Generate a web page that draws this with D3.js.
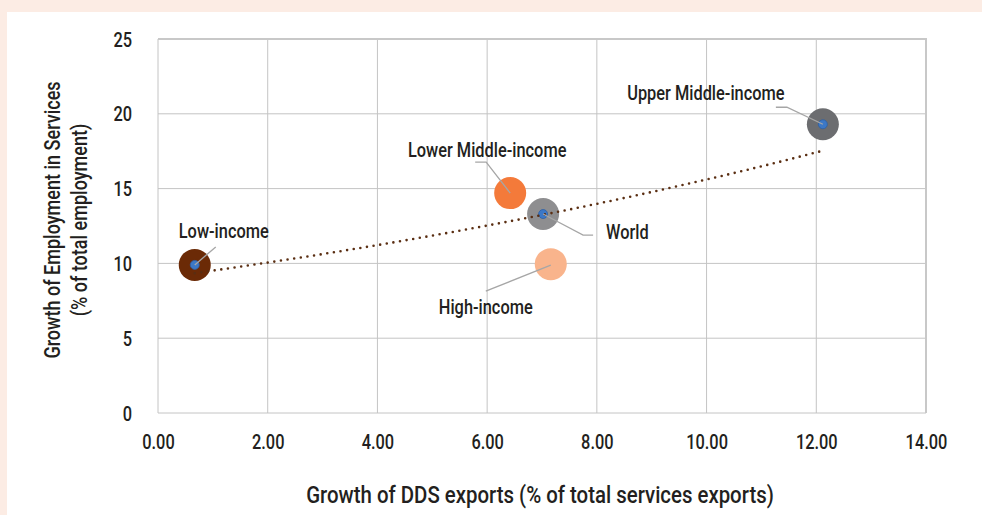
<!DOCTYPE html>
<html>
<head>
<meta charset="utf-8">
<script src="https://cdn.jsdelivr.net/npm/d3@7"></script>
<style>
  html, body { margin: 0; padding: 0; background: #FCECE4; }
  svg { display: block; }
  text { font-family: Roboto, "Liberation Sans", sans-serif; font-weight: 500; fill: #231F20; }
</style>
</head>
<body>
<svg id="chart" width="982" height="515"></svg>
<script>
// ---- data ----
const groups = ["Low-income", "Lower Middle-income", "World", "High-income", "Upper Middle-income"];
const ddsGrowth = [0.67, 6.42, 7.02, 7.16, 12.12];          // x: growth of DDS exports
const empGrowth = [9.9, 14.7, 13.3, 9.95, 19.3];            // y: growth of employment in services
const xTicks = [0, 2, 4, 6, 8, 10, 12, 14];
const yTicks = [0, 5, 10, 15, 20, 25];
const xTitle = "Growth of DDS exports (% of total services exports)";
const yTitle = ["Growth of Employment in Services", "(% of total employment)"];

// ---- styles / layout (not data) ----
const SX = 0.84; // horizontal condensing of the typeface
const fills = ["#6B2A06", "#F47A3A", "#8E8E90", "#F9B48C", "#6C6D70"];
const hasMarker = [true, false, true, false, true];
const labelLayout = [
  { dx: 29,  dy: -27, anchor: "middle", leader: [[21, -18], [0, 0]] },
  { dx: -23, dy: -36, anchor: "middle", leader: [[-35, -31], [-24, -31], [0, 0]] },
  { dx: 63,  dy: 25,  anchor: "start",  leader: [[0, 0], [40, 21], [50, 21]] },
  { dx: -65, dy: 50,  anchor: "middle", leader: [[0, 1], [-65, 27]] },
  { dx: -117, dy: -24, anchor: "middle", leader: [[-47, -17], [-36, -17], [0, 0]] }
];

const svg = d3.select("#chart");
svg.append("rect").attr("x", 7).attr("y", 12).attr("width", 975).attr("height", 503).attr("fill", "#FFFFFF");

const x = d3.scaleLinear().domain([0, 14]).range([158, 926]);
const y = d3.scaleLinear().domain([0, 25]).range([413, 39]);

function ctext(parent, px, py, str, size, anchor, sx) {
  return parent.append("text")
    .attr("transform", `translate(${px},${py}) scale(${sx || SX},1)`)
    .attr("text-anchor", anchor || "middle")
    .style("font-size", size + "px")
    .text(str);
}

// gridlines
const g = svg.append("g");
g.selectAll("line.vx").data(xTicks).enter().append("line")
  .attr("x1", d => x(d)).attr("x2", d => x(d))
  .attr("y1", y(0)).attr("y2", y(25))
  .attr("stroke", "#C4C4C4").attr("stroke-width", 1);
g.selectAll("line.hy").data(yTicks).enter().append("line")
  .attr("x1", x(0)).attr("x2", x(14))
  .attr("y1", d => y(d)).attr("y2", d => y(d))
  .attr("stroke", "#C4C4C4").attr("stroke-width", 1);
g.append("path")
  .attr("d", `M${x(0)},${y(25)}H${x(14)}V${y(0)}`)
  .attr("fill", "none").attr("stroke", "#C8C8C8").attr("stroke-width", 2);

// axes (labels only)
const xAxis = d3.axisBottom(x).tickValues(xTicks).tickFormat(d3.format(".2f")).tickSize(0).tickPadding(0);
const yAxis = d3.axisLeft(y).tickValues(yTicks).tickFormat(d3.format("d")).tickSize(0).tickPadding(0);
const gx = svg.append("g").attr("transform", `translate(0,${y(0)})`).call(xAxis);
const gy = svg.append("g").attr("transform", `translate(${x(0)},0)`).call(yAxis);
[gx, gy].forEach(a => {
  a.select(".domain").remove();
  a.selectAll("text").style("font-family", "Roboto, sans-serif").style("font-weight", "500")
    .style("font-size", "20px").attr("fill", "#231F20").attr("x", null).attr("y", null).attr("dy", null);
});
gx.selectAll("text").attr("transform", `translate(0,36) scale(0.82,1)`);
gy.selectAll("text").attr("transform", `translate(-26,7) scale(0.82,1)`);

// points
const pts = groups.map((name, i) => ({ name, x: ddsGrowth[i], y: empGrowth[i], i }));
svg.selectAll("circle.pt").data(pts).enter().append("circle")
  .attr("cx", d => x(d.x)).attr("cy", d => y(d.y)).attr("r", 16)
  .attr("fill", d => fills[d.i]);
svg.selectAll("circle.mk").data(pts.filter(d => hasMarker[d.i])).enter().append("circle")
  .attr("cx", d => x(d.x)).attr("cy", d => y(d.y)).attr("r", 4.5)
  .attr("fill", "#3C78C6").attr("stroke", "#2E5FA3").attr("stroke-width", 0.8);

// exponential trendline fitted to the data (least squares on ln y)
const n = ddsGrowth.length;
const mx = d3.mean(ddsGrowth), my = d3.mean(empGrowth.map(Math.log));
let sxy = 0, sxx = 0;
for (let i = 0; i < n; i++) {
  sxy += (ddsGrowth[i] - mx) * (Math.log(empGrowth[i]) - my);
  sxx += (ddsGrowth[i] - mx) ** 2;
}
const b = sxy / sxx, a = Math.exp(my - b * mx);
const [xmin, xmax] = d3.extent(ddsGrowth);
const trend = d3.range(0, 41).map(k => xmin + (xmax - xmin) * k / 40).map(v => [v, a * Math.exp(b * v)]);
svg.append("path")
  .attr("d", d3.line().x(d => x(d[0])).y(d => y(d[1]))(trend))
  .attr("fill", "none").attr("stroke", "#5A2E12").attr("stroke-width", 2.6)
  .attr("stroke-linecap", "round").attr("stroke-dasharray", "0,6.7");

// leader lines and labels
pts.forEach(d => {
  const L = labelLayout[d.i];
  const cx = x(d.x), cy = y(d.y);
  svg.append("path")
    .attr("d", d3.line()(L.leader.map(p => [cx + p[0], cy + p[1]])))
    .attr("fill", "none").attr("stroke", "#A6A6A6").attr("stroke-width", 1.3);
  ctext(svg, cx + L.dx, cy + L.dy, d.name, 19.5, L.anchor, 0.84);
});

// axis titles
ctext(svg, 540, 503, xTitle, 24, "middle", 0.85);
const yt = svg.append("text").attr("transform", `translate(60,220) rotate(-90) scale(0.82,1)`)
  .attr("text-anchor", "middle").style("font-size", "22px");
yt.append("tspan").attr("x", 0).attr("y", 0).text(yTitle[0]);
yt.append("tspan").attr("x", 0).attr("y", 27).text(yTitle[1]);
</script>
</body>
</html>
